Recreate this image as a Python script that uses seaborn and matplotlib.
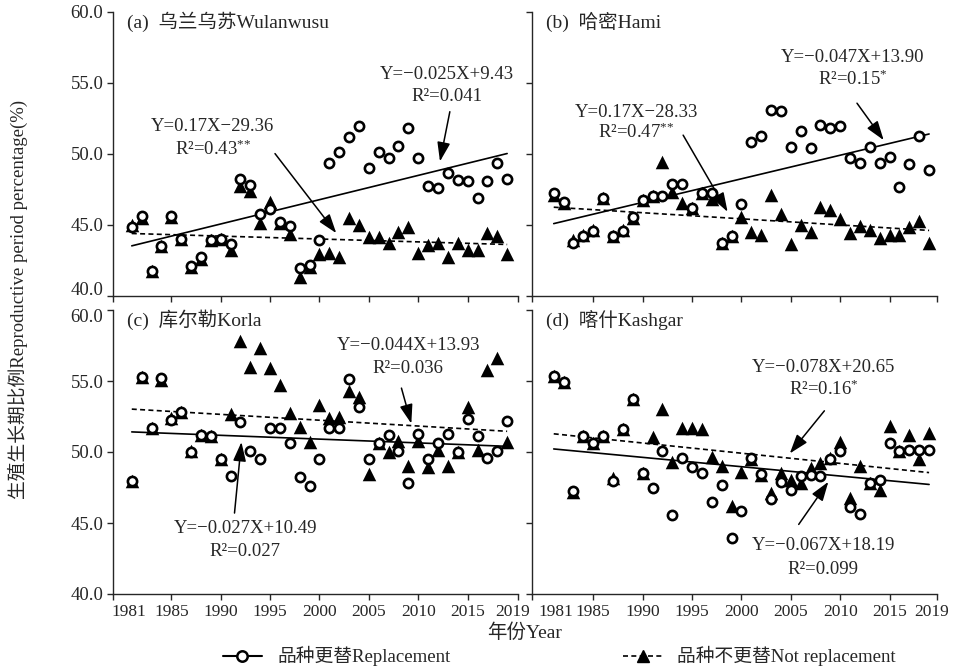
import matplotlib
matplotlib.use("Agg")
import matplotlib.pyplot as plt
import matplotlib.transforms as mtransforms
from matplotlib.lines import Line2D
import numpy as np
import pandas as pd
import seaborn as sns

# ---- data -------------------------------------------------------------
years = list(range(1981, 2020))

# (a) Wulanwusu
repl_a = [44.85, 45.63, 41.73, 43.5, 45.6, 44.0, 42.08, 42.7, 43.92, 43.99,
          43.63, 48.19, 47.79, 45.72, 46.08, 45.2, 44.9, 41.92, 42.15, 43.9,
          49.32, 50.09, 51.19, 51.94, 48.96, 50.09, 49.71, 50.54, 51.82, 49.71,
          47.72, 47.55, 48.6, 48.14, 48.09, 46.85, 48.07, 49.36, 48.19]
norepl_a = [44.97, 45.5, 41.7, 43.5, 45.56, 44.0, 42.0, 42.6, 43.9, 44.0,
            43.2, 47.7, 47.4, 45.1, 46.6, 45.1, 44.35, 41.3, 42.0, 42.9,
            43.0, 42.7, 45.5, 45.0, 44.15, 44.15, 43.7, 44.5, 44.85, 43.0,
            43.55, 43.7, 42.7, 43.7, 43.2, 43.2, 44.4, 44.2, 42.9]

# (b) Hami
repl_b = [47.2, 46.57, 43.73, 44.2, 44.57, 46.89, 44.2, 44.57, 45.51, 46.73,
          47.01, 47.01, 47.84, 47.84, 46.15, 47.25, 47.2, 43.73, 44.2, 46.43,
          50.84, 51.24, 53.07, 53.0, 50.49, 51.59, 50.42, 52.01, 51.82, 51.94,
          49.67, 49.32, 50.49, 49.32, 49.74, 47.63, 49.27, 51.24, 48.85]
norepl_b = [47.1, 46.55, 43.9, 44.3, 44.6, 46.85, 44.2, 44.6, 45.5, 46.7,
            47.0, 49.43, 47.3, 46.55, 46.2, 47.25, 46.78, 43.7, 44.2, 45.51,
            44.5, 44.27, 47.08, 45.75, 43.63, 44.97, 44.5, 46.22, 46.03, 45.37,
            44.43, 44.9, 44.62, 44.03, 44.27, 44.27, 44.81, 45.27, 43.73]

# (c) Korla
repl_c = [47.96, 55.3, 51.67, 55.19, 52.25, 52.84, 50.02, 51.2, 51.15, 49.51,
          48.33, 52.14, 50.07, 49.51, 51.71, 51.71, 50.61, 48.26, 47.61, 49.51,
          51.67, 51.71, 55.14, 53.19, 49.51, 50.61, 51.2, 50.07, 47.84, 51.25,
          49.49, 50.66, 51.25, 50.02, 52.32, 51.1, 49.56, 50.07, 52.18]
norepl_c = [47.96, 55.3, 51.7, 55.1, 52.37, 52.8, 50.07, 51.2, 51.15, 49.5,
            52.65, 57.84, 56.0, 57.3, 55.9, 54.7, 52.72, 51.79, 50.73, 53.3,
            52.4, 52.47, 54.3, 53.9, 48.45, 50.6, 50.02, 50.8, 49.01, 50.8,
            48.97, 50.14, 49.01, 50.0, 53.15, 50.14, 55.77, 56.6, 50.73]

# (d) Kashgar
repl_d = [55.35, 54.95, 47.25, 51.13, 50.61, 51.13, 47.98, 51.6, 53.71, 48.54,
          47.49, 50.09, 45.56, 49.55, 48.97, 48.5, 46.5, 47.68, 43.96, 45.87,
          49.55, 48.45, 46.67, 47.91, 47.32, 48.31, 48.38, 48.31, 49.49, 50.09,
          46.15, 45.63, 47.8, 48.03, 50.61, 50.09, 50.14, 50.14, 50.14]
norepl_d = [55.35, 54.95, 47.2, 51.13, 50.61, 51.13, 48.15, 51.6, 53.71, 48.5,
            51.08, 53.0, 49.3, 51.7, 51.7, 51.62, 49.63, 49.04, 46.22, 48.57,
            49.5, 48.4, 47.1, 48.5, 48.0, 47.85, 48.85, 49.2, 49.55, 50.73,
            46.74, 49.0, 47.8, 47.32, 51.85, 50.1, 51.2, 49.5, 51.32]

panel_titles = ["(a)  乌兰乌苏Wulanwusu", "(b)  哈密Hami",
                "(c)  库尔勒Korla", "(d)  喀什Kashgar"]

# regression equations printed on each panel
equations = [
    [("Y=0.17X\u221229.36", "R\u00b2=0.43$^{*\\!*}$"), ("Y=\u22120.025X+9.43", "R\u00b2=0.041")],
    [("Y=0.17X\u221228.33", "R\u00b2=0.47$^{*\\!*}$"), ("Y=\u22120.047X+13.90", "R\u00b2=0.15$^{*}$")],
    [("Y=\u22120.044X+13.93", "R\u00b2=0.036"), ("Y=\u22120.027X+10.49", "R\u00b2=0.027")],
    [("Y=\u22120.078X+20.65", "R\u00b2=0.16$^{*}$"), ("Y=\u22120.067X+18.19", "R\u00b2=0.099")],
]

legend_labels = ["品种更替Replacement", "品种不更替Not replacement"]
x_label = "年份Year"
y_label = "生殖生长期比例Reproductive period percentage(%)"
y_ticks = [40, 45, 50, 55, 60]
x_ticks_inner = [1985, 1990, 1995, 2000, 2005, 2010, 2015]

# ---- layout of labels (text x, eq y, R2 y, arrow tail, arrow tip) ----
label_layout = [
    [(1989.2, 51.9, 50.3, (1995.5, 50.0), (2001.7, 44.4)),
     (2012.9, 55.6, 54.05, (2013.2, 52.95), (2012.2, 49.45))],
    [(1989.4, 52.9, 51.5, (1994.1, 51.3), (1998.6, 45.9)),
     (2011.3, 56.75, 55.2, (2011.7, 53.55), (2014.4, 50.95))],
    [(2009.0, 57.5, 55.85, (2008.3, 54.5), (2009.3, 52.0)),
     (1992.5, 44.6, 43.0, (1991.4, 45.7), (1992.1, 50.7))],
    [(2008.3, 55.95, 54.4, (2008.4, 52.9), (2004.9, 49.9)),
     (2008.3, 43.4, 41.75, (2005.8, 44.9), (2008.8, 47.9))],
]

# ---- style ------------------------------------------------------------
sns.set_style("ticks")
plt.rcParams["font.family"] = ["Liberation Serif", "Noto Sans CJK SC"]
plt.rcParams["mathtext.fontset"] = "custom"
plt.rcParams["mathtext.rm"] = "Liberation Serif"
plt.rcParams["mathtext.it"] = "Liberation Serif:italic"
plt.rcParams["mathtext.bf"] = "Liberation Serif:bold"
plt.rcParams["axes.linewidth"] = 1.0

fig = plt.figure(figsize=(9.56, 6.69), dpi=100)
W, H = 956, 669
boxes = [(113, 11.6), (532, 11.6), (113, 310), (532, 310)]
axes = []
for (lx, ty) in boxes:
    axes.append(fig.add_axes([lx / W, 1 - (ty + 284) / H, 405 / W, 284 / H]))

series = [(repl_a, norepl_a), (repl_b, norepl_b),
          (repl_c, norepl_c), (repl_d, norepl_d)]

dash = (0, (3, 2))
arrow_kw = dict(arrowstyle="-|>,head_length=0.65,head_width=0.22",
                mutation_scale=18, lw=1.1, color="black",
                shrinkA=0, shrinkB=0)

for i, ax in enumerate(axes):
    repl, norepl = series[i]
    df = pd.DataFrame({"year": years, "repl": repl, "norepl": norepl})

    sns.scatterplot(data=df, x="year", y="norepl", ax=ax, marker="^", s=95,
                    color="black", linewidth=0, zorder=2)
    sns.regplot(data=df, x="year", y="norepl", ax=ax, scatter=False, ci=None,
                line_kws=dict(color="black", lw=1.2, ls=dash, zorder=2.5))
    sns.regplot(data=df, x="year", y="repl", ax=ax, scatter=False, ci=None,
                line_kws=dict(color="black", lw=1.2, zorder=2.5))
    sns.scatterplot(data=df, x="year", y="repl", ax=ax, marker="o", s=44,
                    facecolor="white", edgecolor="black", linewidth=1.9,
                    zorder=3)

    left = (i % 2 == 0)
    bottom = (i >= 2)
    xmin, xmax = (1979.1, 2020.1) if left else (1978.8, 2019.8)
    ax.set_xlim(xmin, xmax)
    ax.set_ylim(40, 60)
    sns.despine(ax=ax)

    ax.set_xticks([xmin] + x_ticks_inner + [xmax])
    ends = (1980.7, 2019.6) if left else (1981.2, 2019.3)
    ax.set_xticks(list(ends), minor=True)
    if bottom:
        ax.set_xticklabels([""] + [str(t) for t in x_ticks_inner] + [""])
        ax.set_xticklabels(["1981", "2019"], minor=True)
    else:
        ax.set_xticklabels([])
        ax.set_xticklabels([], minor=True)
    ax.tick_params(axis="x", which="major", length=4, width=1,
                   direction="out", labelsize=12.5, pad=3)
    ax.tick_params(axis="x", which="minor", length=0, labelsize=12.5, pad=7)

    ax.set_yticks(y_ticks)
    if left:
        ax.set_yticklabels([f"{t:.1f}" for t in y_ticks])
    else:
        ax.set_yticklabels([])
    ax.tick_params(axis="y", length=4, width=1, direction="out",
                   labelsize=13.5, pad=3)
    ax.set_xlabel("")
    ax.set_ylabel("")

    # keep the 40.0 / 60.0 labels of the stacked panels apart
    if left:
        ticks = ax.yaxis.get_major_ticks()
        if bottom:
            shift = mtransforms.ScaledTranslation(0, -4 / 72, fig.dpi_scale_trans)
            ticks[-1].label1.set_transform(ticks[-1].label1.get_transform() + shift)
        else:
            shift = mtransforms.ScaledTranslation(0, 5 / 72, fig.dpi_scale_trans)
            ticks[0].label1.set_transform(ticks[0].label1.get_transform() + shift)

    ax.text(0.034, 0.965, panel_titles[i], transform=ax.transAxes,
            ha="left", va="center", fontsize=14)

    for (eq, r2), (tx, ey, ry, tail, tip) in zip(equations[i], label_layout[i]):
        ax.text(tx, ey, eq, ha="center", va="center", fontsize=13.5, zorder=5)
        ax.text(tx, ry, r2, ha="center", va="center", fontsize=13.5, zorder=5)
        ax.annotate("", xy=tip, xytext=tail, arrowprops=arrow_kw, zorder=5)

fig.text(0.549, 0.054, x_label, ha="center", va="center", fontsize=14)
fig.text(0.019, 0.552, y_label, rotation=90, ha="center", va="center",
         fontsize=13.5)

handles = [
    Line2D([0], [0], color="black", lw=1.5, marker="o", ms=7.5,
           mfc="white", mec="black", mew=1.8),
    Line2D([0], [0], color="black", lw=1.2, ls=dash, marker="^", ms=8,
           mfc="black", mec="black"),
]
fig.legend(handles, legend_labels, loc="center", bbox_to_anchor=(0.585, 0.019),
           ncol=2, frameon=False, fontsize=13.5, handlelength=2.1,
           handletextpad=0.8, columnspacing=9.2, borderaxespad=0)

fig.savefig("out.png", dpi=100)
